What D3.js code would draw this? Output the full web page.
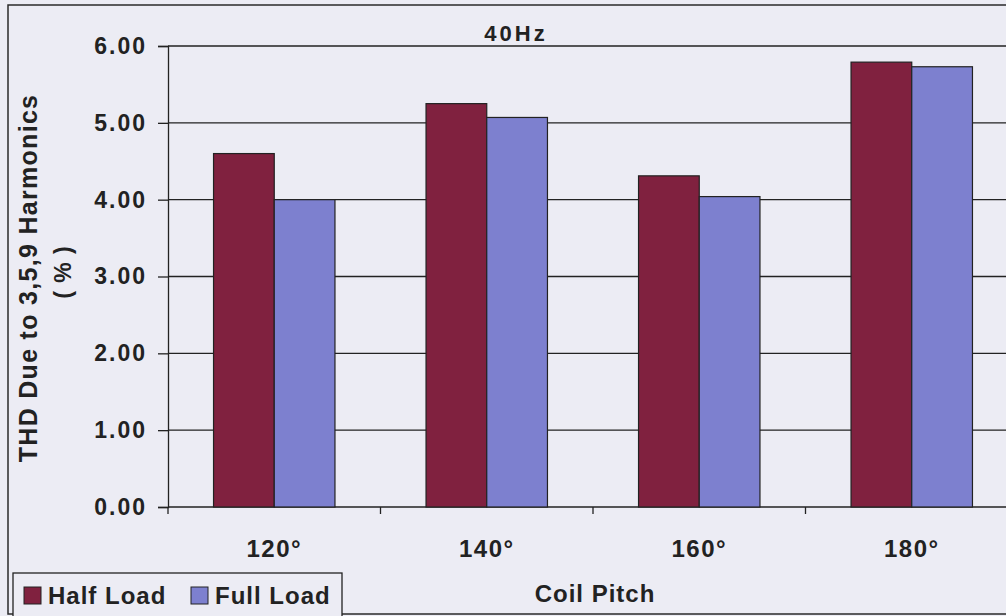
<!DOCTYPE html>
<html><head><meta charset="utf-8">
<script src="https://cdn.jsdelivr.net/npm/d3@7"></script>
<style>body{margin:0;background:#ececf4;}svg{display:block;}</style>
</head><body>
<svg id="c" width="1006" height="616"></svg>
<script>
const categories = ["120°","140°","160°","180°"];
const seriesNames = ["Half Load","Full Load"];
const halfLoad = [4.60, 5.25, 4.31, 5.79];
const fullLoad = [4.00, 5.07, 4.04, 5.73];
const yTicks = [0,1,2,3,4,5,6];
const colors = ["#80213f","#7d80cf"];

(function(){
const svg = d3.select("#c");
const W = 1006, H = 616;
const pL = 168, pR = 1018, pT = 46, pB = 507;
const FONT = "Liberation Sans, Arial, sans-serif";
const INK = "#222";

svg.append("rect").attr("width",W).attr("height",H).attr("fill","#ececf4");
svg.append("rect").attr("x",8).attr("y",5).attr("width",1100).attr("height",609)
  .attr("fill","none").attr("stroke","#2a2a2a").attr("stroke-width",1.5);

const x0 = d3.scaleBand().domain(categories).range([pL,pR]).paddingInner(0).paddingOuter(0);
const x1 = d3.scaleBand().domain(seriesNames).range([0,x0.bandwidth()]).paddingInner(0).paddingOuter(0.75);
const y = d3.scaleLinear().domain([0,6]).range([pB,pT]);

svg.append("g").selectAll("line").data(yTicks).join("line")
  .attr("x1",pL).attr("x2",pR).attr("y1",d=>y(d)).attr("y2",d=>y(d))
  .attr("stroke",INK).attr("stroke-width",1.3);

const data = categories.map((c,i)=>({c, vals:[halfLoad[i], fullLoad[i]]}));
const g = svg.append("g").selectAll("g").data(data).join("g")
  .attr("transform",d=>`translate(${x0(d.c)},0)`);
g.selectAll("rect").data(d=>d.vals.map((v,j)=>({v,s:seriesNames[j],j}))).join("rect")
  .attr("x",d=>x1(d.s)).attr("width",x1.bandwidth())
  .attr("y",d=>y(d.v)).attr("height",d=>y(0)-y(d.v))
  .attr("fill",d=>colors[d.j]).attr("stroke",INK).attr("stroke-width",1.2);

const ya = d3.axisLeft(y).tickValues(yTicks).tickFormat(d3.format(".2f")).tickSize(10).tickPadding(11);
const yg = svg.append("g").attr("transform",`translate(${pL},0)`).call(ya);
yg.select(".domain").attr("stroke",INK).attr("stroke-width",1.3);
yg.selectAll(".tick line").attr("stroke",INK).attr("stroke-width",1.3);
yg.selectAll("text").attr("font-family",FONT).attr("letter-spacing",2)
  .attr("font-weight","bold").attr("font-size",23).attr("fill",INK);

const xa = d3.axisBottom(x0).tickSize(0).tickPadding(33);
const xg = svg.append("g").attr("transform",`translate(0,${pB})`).call(xa);
xg.select(".domain").remove();
xg.selectAll("text").attr("font-family",FONT).attr("letter-spacing",1.5)
  .attr("font-weight","bold").attr("font-size",24).attr("fill",INK);
svg.append("g").selectAll("line").data(categories).join("line")
  .attr("x1",d=>x0(d)).attr("x2",d=>x0(d)).attr("y1",pB).attr("y2",pB+7)
  .attr("stroke",INK).attr("stroke-width",1.3);

svg.append("text").attr("x",516).attr("y",41).attr("text-anchor","middle")
  .attr("font-family",FONT).attr("font-weight","bold").attr("letter-spacing",3)
  .attr("font-size",22).attr("fill",INK).text("40Hz");

svg.append("text").attr("transform","translate(37,278) rotate(-90)")
  .attr("text-anchor","middle").attr("font-family",FONT).attr("letter-spacing",1.3)
  .attr("font-weight","bold").attr("font-size",25).attr("fill",INK)
  .text("THD Due to 3,5,9 Harmonics");
svg.append("text").attr("transform","translate(71,272) rotate(-90)")
  .attr("text-anchor","middle").attr("font-family",FONT).attr("letter-spacing",1)
  .attr("font-weight","bold").attr("font-size",23).attr("fill",INK)
  .text("( % )");

svg.append("text").attr("x",595).attr("y",602).attr("text-anchor","middle")
  .attr("font-family",FONT).attr("font-weight","bold").attr("letter-spacing",1)
  .attr("font-size",24).attr("fill",INK).text("Coil Pitch");

const lg = svg.append("g");
lg.append("rect").attr("x",13).attr("y",573).attr("width",329).attr("height",50)
  .attr("fill","#ececf4").attr("stroke",INK).attr("stroke-width",1.3);
const items = lg.selectAll("g").data(seriesNames).join("g")
  .attr("transform",(d,i)=>`translate(${i===0?24:191},587)`);
items.append("rect").attr("width",17).attr("height",17)
  .attr("fill",(d,i)=>colors[i]).attr("stroke",INK).attr("stroke-width",1);
items.append("text").attr("x",24).attr("y",17)
  .attr("font-family",FONT).attr("font-weight","bold")
  .attr("font-size",24).attr("letter-spacing",1).attr("fill",INK).text(d=>d);
})();
</script>
</body></html>
